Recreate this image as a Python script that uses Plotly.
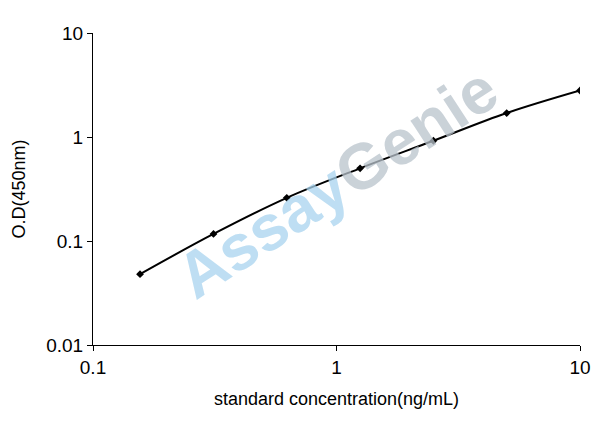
import plotly.graph_objects as go

conc = [0.156, 0.3125, 0.625, 1.25, 2.5, 5, 10]
od = [0.048, 0.117, 0.26, 0.50, 0.92, 1.7, 2.8]

fig = go.Figure(go.Scatter(
    x=conc, y=od, mode="lines+markers",
    line=dict(color="black", width=2, shape="spline"),
    marker=dict(symbol="diamond", size=6, color="black"),
))

fig.add_annotation(
    x=0.5, y=0.52, xref="paper", yref="paper", textangle=-33, showarrow=False,
    text="<b><span style='color:#a9d4ef'>Assay</span><span style='color:#b9c3cc'>Genie</span></b>",
    font=dict(family="Liberation Sans, Arial", size=64),
    opacity=0.75,
)

axis = dict(type="log", showgrid=False, zeroline=False, showline=True,
            linecolor="black", linewidth=1, ticks="outside", ticklen=5,
            tickcolor="black", mirror=False,
            tickfont=dict(family="Liberation Sans, Arial", size=19, color="black"))

fig.update_layout(
    width=608, height=447, showlegend=False,
    plot_bgcolor="white", paper_bgcolor="white",
    margin=dict(l=85, r=36, t=25, b=110),
    font=dict(family="Liberation Sans, Arial", color="black"),
    xaxis=dict(axis, range=[-1, 1], tickvals=[0.1, 1, 10], ticktext=["0.1", "1", "10"],
               title=dict(text="standard concentration(ng/mL)", font=dict(size=18))),
    yaxis=dict(axis, range=[-2, 1], tickvals=[0.01, 0.1, 1, 10],
               ticktext=["0.01", "0.1", "1", "10"],
               title=dict(text="O.D(450nm)", font=dict(size=18))),
)

fig.write_html("out.html")
